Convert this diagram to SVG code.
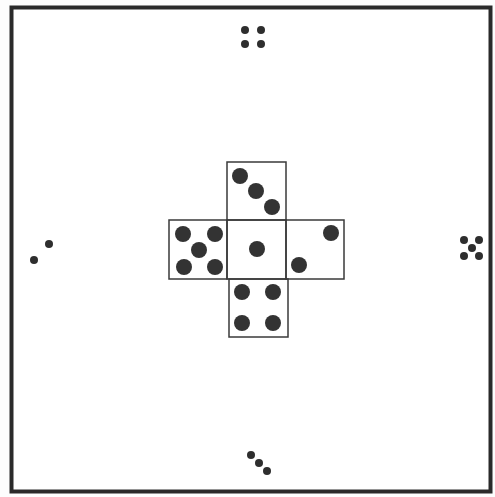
<svg xmlns="http://www.w3.org/2000/svg" width="495" height="497" viewBox="0 0 495 497">
<style>
.face{fill:none;stroke:#3a3a3a;stroke-width:1.5}
.pip{fill:#333}
.sp{fill:#2e2e2e}
</style>
<rect width="495" height="497" fill="#fdfdfd"/>
<rect x="11.5" y="7.5" width="479" height="484" fill="#fff" stroke="#2a2a2a" stroke-width="4"/>
<g id="top-marks">
<circle class="sp" cx="245" cy="30" r="4"/><circle class="sp" cx="261" cy="30" r="4"/>
<circle class="sp" cx="245" cy="44" r="4"/><circle class="sp" cx="261" cy="44" r="4"/>
</g>
<g id="bottom-marks">
<circle class="sp" cx="251" cy="455" r="4"/><circle class="sp" cx="259" cy="463" r="4"/><circle class="sp" cx="267" cy="471" r="4"/>
</g>
<g id="left-marks">
<circle class="sp" cx="49" cy="244" r="4"/><circle class="sp" cx="34" cy="260" r="4"/>
</g>
<g id="right-marks">
<circle class="sp" cx="464" cy="240" r="4"/><circle class="sp" cx="479" cy="240" r="4"/>
<circle class="sp" cx="472" cy="248" r="4"/>
<circle class="sp" cx="464" cy="256" r="4"/><circle class="sp" cx="479" cy="256" r="4"/>
</g>
<g id="face-top">
<rect class="face" x="227" y="162" width="59" height="58"/>
<circle class="pip" cx="240" cy="176" r="8"/><circle class="pip" cx="256" cy="191" r="8"/><circle class="pip" cx="272" cy="207" r="8"/>
</g>
<g id="face-left">
<rect class="face" x="169" y="220" width="58" height="59"/>
<circle class="pip" cx="183" cy="234" r="8"/><circle class="pip" cx="215" cy="234" r="8"/>
<circle class="pip" cx="199" cy="250" r="8"/>
<circle class="pip" cx="184" cy="267" r="8"/><circle class="pip" cx="215" cy="267" r="8"/>
</g>
<g id="face-center">
<rect class="face" x="227" y="220" width="59" height="59"/>
<circle class="pip" cx="257" cy="249" r="8"/>
</g>
<g id="face-right">
<rect class="face" x="286" y="220" width="58" height="59"/>
<circle class="pip" cx="331" cy="233" r="8"/><circle class="pip" cx="299" cy="265" r="8"/>
</g>
<g id="face-bottom">
<rect class="face" x="229" y="279" width="59" height="58"/>
<circle class="pip" cx="242" cy="292" r="8"/><circle class="pip" cx="273" cy="292" r="8"/>
<circle class="pip" cx="242" cy="323" r="8"/><circle class="pip" cx="273" cy="323" r="8"/>
</g>
</svg>
